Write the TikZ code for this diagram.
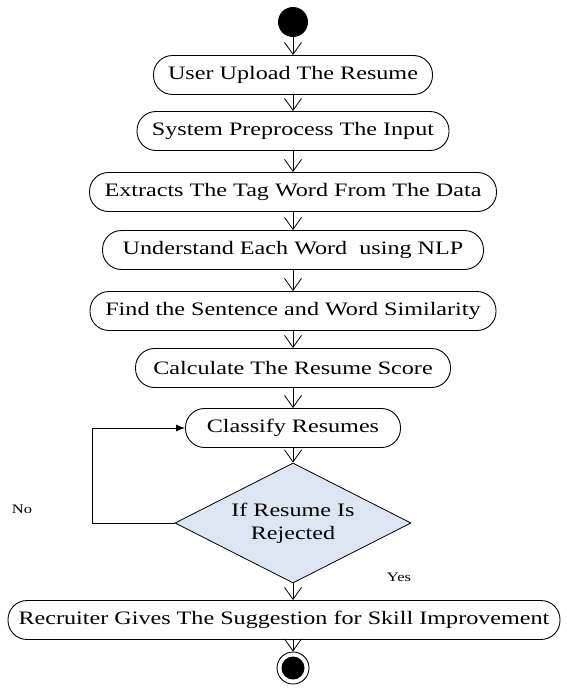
\documentclass[tikz,border=0pt]{standalone}
\usepackage{fontspec}
\setmainfont{Liberation Serif}[FakeStretch=1.27]
\usetikzlibrary{arrows.meta,shapes.geometric}
\definecolor{diafill}{RGB}{220,230,242}
\begin{document}
\begin{tikzpicture}[x=1pt,y=-1pt,
  act/.style={draw, rounded corners=19pt, minimum height=39pt, inner sep=0pt,
    font=\fontsize{19}{21}\selectfont, line width=0.9pt},
  flow/.style={-{Straight Barb[length=12pt,width=17pt,line width=0.8pt]}, line width=0.8pt},
  loopflow/.style={-{Latex[length=9pt,width=7pt]}, line width=0.9pt},
  lbl/.style={font=\fontsize{13}{15}\selectfont}]
\useasboundingbox (0,0) rectangle (566,688);
\node[circle, fill=black, minimum size=30pt, inner sep=0pt] (start) at (293,22) {};
\node[act, minimum width=279pt] (a1) at (293,75) {User Upload The Resume};
\node[act, minimum width=312pt] (a2) at (293,131) {System Preprocess The Input};
\node[act, minimum width=407pt] (a3) at (293,192) {Extracts The Tag Word From The Data};
\node[act, minimum width=381pt] (a4) at (293,250) {Understand Each Word\ \ using NLP};
\node[act, minimum width=406pt] (a5) at (293,311) {Find the Sentence and Word Similarity};
\node[act, minimum width=315pt] (a6) at (293,368) {Calculate The Resume Score};
\node[act, minimum width=215pt] (a7) at (293,428) {Classify Resumes};
\node[diamond, draw, fill=diafill, shape aspect=2, minimum width=236pt, minimum height=120pt,
  inner sep=0pt, line width=0.8pt, align=center, font=\fontsize{19}{23}\selectfont] (dia) at (293,523)
  {If Resume Is\\Rejected};
\node[act, minimum width=552pt] (a8) at (284,620) {Recruiter Gives The Suggestion for Skill Improvement};
\node[circle, draw, line width=0.9pt, minimum size=32pt, inner sep=0pt,
  path picture={\fill[black] (path picture bounding box.center) circle (11.5pt);}] (end) at (293,668) {};
\coordinate (lp) at (92,523);
\node[lbl] (no) at (22,509) {No};
\node[lbl] (yes) at (399,577) {Yes};
\draw[flow] (start) -- (a1);
\draw[flow] (a1) -- (a2);
\draw[flow] (a2) -- (a3);
\draw[flow] (a3) -- (a4);
\draw[flow] (a4) -- (a5);
\draw[flow] (a5) -- (a6);
\draw[flow] (a6) -- (a7);
\draw[flow] (a7) -- (dia);
\draw[flow] (dia.south) -- (dia.south |- a8.north);
\draw[flow] (a8.south -| end) -- (end);
\draw[loopflow] (dia.west) -- (lp) |- (a7.west);
\end{tikzpicture}
\end{document}
